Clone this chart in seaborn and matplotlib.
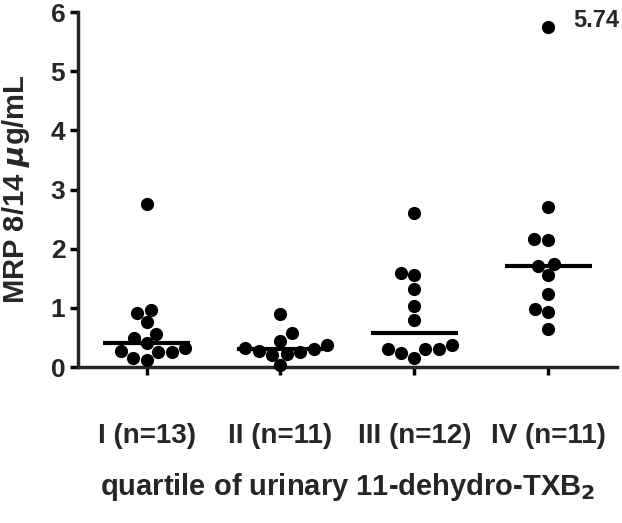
import matplotlib
matplotlib.use('Agg')
import matplotlib.pyplot as plt
import seaborn as sns
import numpy as np
import pandas as pd

# values (MRP 8/14, ug/mL)
groups = ['I (n=13)', 'II (n=11)', 'III (n=12)', 'IV (n=11)']
q1 = [2.75, 0.97, 0.92, 0.76, 0.56, 0.49, 0.40, 0.27, 0.25, 0.12, 0.16, 0.25, 0.32]
q2 = [0.89, 0.57, 0.44, 0.37, 0.33, 0.30, 0.28, 0.26, 0.23, 0.20, 0.03]
q3 = [2.60, 1.59, 1.55, 1.32, 1.04, 0.79, 0.37, 0.31, 0.30, 0.30, 0.24, 0.16]
q4 = [5.74, 2.70, 2.16, 2.14, 1.75, 1.71, 1.55, 1.24, 0.99, 0.93, 0.65]

df = pd.DataFrame({
    'group': [groups[0]] * len(q1) + [groups[1]] * len(q2) + [groups[2]] * len(q3) + [groups[3]] * len(q4),
    'mrp': q1 + q2 + q3 + q4,
})

sns.set_style('ticks')
plt.rcParams['font.family'] = ['Liberation Sans', 'DejaVu Sans']
plt.rcParams['font.weight'] = 'bold'

fig = plt.figure(figsize=(6.22, 5.23), dpi=100)
ax = fig.add_axes([0.125, 0.298, 0.867, 0.679])

sns.swarmplot(data=df, x='group', y='mrp', order=groups, color='black',
              size=9.5, ax=ax, clip_on=False)

# median bars
for i, g in enumerate(groups):
    med = np.median(df.loc[df['group'] == g, 'mrp'])
    ax.hlines(med, i - 0.325, i + 0.325, color='black', lw=3)

ax.annotate('5.74', xy=(3, max(q4)), xytext=(18, 5), textcoords='offset points',
            fontsize=17, fontweight='bold', va='center')

ax.set_xlim(-0.515, 3.515)
ax.set_ylim(0, 6)
ax.set_yticks(range(0, 7))
sns.despine(ax=ax)
for s in ['left', 'bottom']:
    ax.spines[s].set_linewidth(2.5)
ax.tick_params(axis='both', width=2.5, length=6, color='black')
ax.tick_params(axis='y', labelsize=19, pad=3)
ax.tick_params(axis='x', labelsize=20, pad=34)

ax.set_xlabel('quartile of urinary 11-dehydro-TXB$_\\mathbf{2}$', fontsize=21,
              fontweight='bold', labelpad=16)
ax.set_ylabel('MRP 8/14 $\\mu$g/mL', fontsize=21, fontweight='bold', labelpad=13)

fig.savefig('out.png', dpi=100)
